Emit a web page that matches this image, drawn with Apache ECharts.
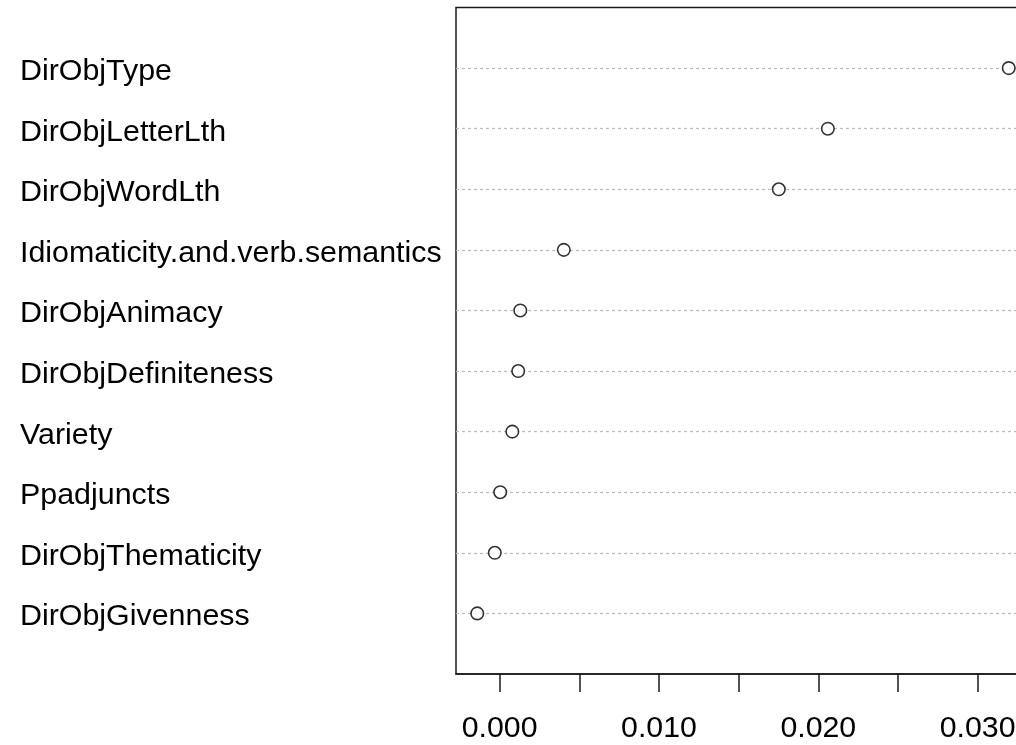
<!DOCTYPE html>
<html>
<head>
<meta charset="utf-8">
<script src="https://cdn.jsdelivr.net/npm/echarts@6/dist/echarts.min.js"></script>
<style>
  html, body { margin: 0; padding: 0; background: #fff; overflow: hidden; }
  /* plot box runs past the right edge of the page */
  #chart { width: 1040px; height: 745px; }
</style>
</head>
<body>
<div id="chart"></div>
<script>
// Variable importance, listed top to bottom
const variables = [
  'DirObjType',
  'DirObjLetterLth',
  'DirObjWordLth',
  'Idiomaticity.and.verb.semantics',
  'DirObjAnimacy',
  'DirObjDefiniteness',
  'Variety',
  'Ppadjuncts',
  'DirObjThematicity',
  'DirObjGivenness'
];
const importance = [0.03195, 0.0206, 0.01752, 0.00403, 0.0013, 0.00117, 0.0008, 0.00004, -0.0003, -0.0014];

const tickValues = [0, 0.005, 0.010, 0.015, 0.020, 0.025, 0.030, 0.035];
const tickLabels = [0, 0.010, 0.020, 0.030];

// dotchart-style limits: data range padded by 4% on each side
const dMin = Math.min(...importance), dMax = Math.max(...importance);
const pad = (dMax - dMin) * 0.04;
const xMin = dMin - pad, xMax = dMax + pad;

// Rows: one blank slot below and above, so rows sit at 1..n on a 0..n+1 span
const n = variables.length;
const rowCats = [''].concat(variables.slice().reverse(), ['']);
const points = importance.map((v, i) => [v, n - i]);

const font = "'Liberation Sans', Arial, sans-serif";
const chart = echarts.init(document.getElementById('chart'), null, { renderer: 'canvas' });

chart.setOption({
  animation: false,
  backgroundColor: '#fff',
  grid: {
    show: true,
    left: 456,
    top: 7.5,
    bottom: 71,
    width: 574,
    borderColor: '#1a1a1a',
    borderWidth: 1.5,
    backgroundColor: 'transparent'
  },
  xAxis: {
    type: 'value',
    min: xMin,
    max: xMax,
    axisLine: { show: true, lineStyle: { color: '#1a1a1a', width: 1.5 } },
    axisTick: {
      show: true,
      customValues: tickValues,
      length: 18,
      lineStyle: { color: '#1a1a1a', width: 1.5 }
    },
    axisLabel: {
      customValues: tickLabels,
      formatter: v => v.toFixed(3),
      fontFamily: font,
      fontSize: 30.3,
      color: '#000',
      margin: 40,
      lineHeight: 30
    },
    splitLine: { show: false }
  },
  yAxis: {
    type: 'category',
    data: rowCats,
    boundaryGap: false,
    axisLine: { show: false },
    axisTick: { show: false },
    axisLabel: {
      interval: 0,
      align: 'left',
      verticalAlign: 'top',
      lineHeight: 7,
      margin: 436,
      fontFamily: font,
      fontSize: 30.4,
      color: '#000'
    },
    splitLine: {
      show: true,
      interval: (idx) => idx > 0 && idx <= n,
      lineStyle: { color: '#bdbdbd', width: 1.3, type: [3, 3] }
    }
  },
  series: [{
    type: 'scatter',
    data: points,
    symbol: 'circle',
    symbolSize: 12.5,
    itemStyle: { color: '#fff', borderColor: '#000', borderWidth: 1.6 },
    z: 5
  }]
});
</script>
</body>
</html>
